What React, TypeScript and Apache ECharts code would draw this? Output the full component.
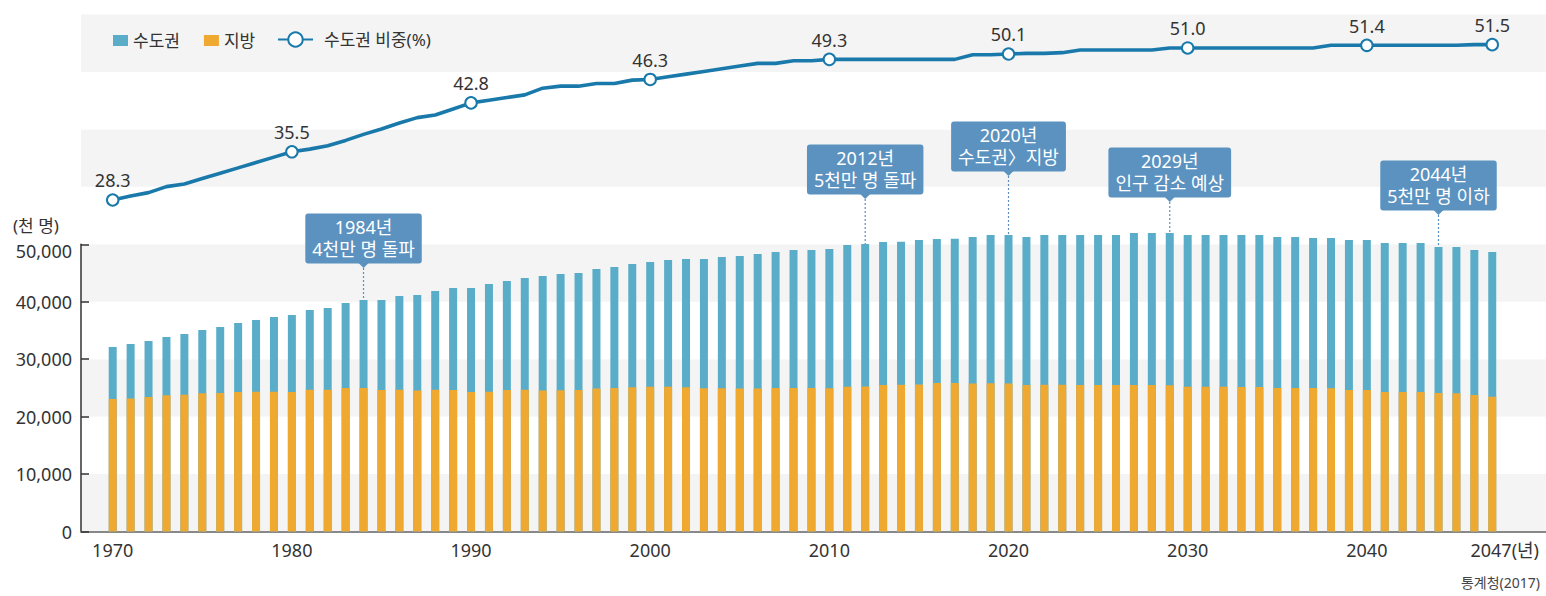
import { useEffect, useRef } from 'react';
import * as echarts from 'echarts';

const years = [
  1970, 1971, 1972, 1973, 1974, 1975, 1976, 1977, 1978, 1979,
  1980, 1981, 1982, 1983, 1984, 1985, 1986, 1987, 1988, 1989,
  1990, 1991, 1992, 1993, 1994, 1995, 1996, 1997, 1998, 1999,
  2000, 2001, 2002, 2003, 2004, 2005, 2006, 2007, 2008, 2009,
  2010, 2011, 2012, 2013, 2014, 2015, 2016, 2017, 2018, 2019,
  2020, 2021, 2022, 2023, 2024, 2025, 2026, 2027, 2028, 2029,
  2030, 2031, 2032, 2033, 2034, 2035, 2036, 2037, 2038, 2039,
  2040, 2041, 2042, 2043, 2044, 2045, 2046, 2047,
];

// 수도권 인구 (천 명)
const metroPop = [
  9070, 9490, 9750, 10160, 10580, 11000, 11490, 12010, 12510, 13010,
  13390, 13890, 14220, 14800, 15330, 15680, 16340, 16620, 17200, 17760,
  18120, 18760, 18970, 19450, 19920, 20250, 20370, 20800, 21060, 21470,
  21740, 22090, 22310, 22490, 22850, 23060, 23410, 23690, 24040, 24050,
  24230, 24680, 24800, 24880, 24890, 25150, 25090, 25110, 25490, 25800,
  25840, 25760, 26060, 26080, 26120, 26120, 26130, 26450, 26460, 26490,
  26420, 26430, 26440, 26450, 26460, 26270, 26280, 26120, 26150, 26110,
  26120, 25930, 25940, 25950, 25440, 25450, 25250, 25210,
];

// 지방 인구 (천 명)
const nonMetroPop = [
  23050, 23150, 23420, 23700, 23800, 24080, 24110, 24290, 24310, 24330,
  24300, 24670, 24690, 24980, 24970, 24620, 24660, 24550, 24670, 24630,
  24270, 24330, 24640, 24680, 24560, 24580, 24630, 24900, 24990, 25100,
  25180, 25180, 25130, 24950, 24940, 24900, 24900, 24970, 24970, 24960,
  24950, 25200, 25250, 25520, 25530, 25600, 25830, 25840, 25780, 25820,
  25780, 25510, 25560, 25540, 25500, 25500, 25490, 25520, 25510, 25480,
  25200, 25190, 25180, 25170, 25160, 25000, 24990, 24980, 24950, 24640,
  24630, 24300, 24290, 24280, 24090, 24080, 23760, 23450,
];

// 수도권 비중 (%)
const metroShare = [
  28.3, 28.9, 29.4, 30.3, 30.7, 31.5, 32.3, 33.1, 33.9, 34.7,
  35.5, 35.9, 36.4, 37.2, 38.1, 38.9, 39.8, 40.6, 41.0, 41.9,
  42.8, 43.2, 43.6, 44.0, 45.0, 45.3, 45.3, 45.7, 45.7, 46.2,
  46.3, 46.7, 47.1, 47.5, 47.9, 48.3, 48.7, 48.7, 49.1, 49.1,
  49.3, 49.3, 49.3, 49.3, 49.3, 49.3, 49.3, 49.3, 50.0, 50.0,
  50.1, 50.2, 50.2, 50.3, 50.7, 50.7, 50.7, 50.7, 50.7, 51.0,
  51.0, 51.0, 51.0, 51.0, 51.0, 51.0, 51.0, 51.0, 51.4, 51.4,
  51.4, 51.4, 51.4, 51.4, 51.4, 51.4, 51.5, 51.5,
];

const labelledYears = [1970, 1980, 1990, 2000, 2010, 2020, 2030, 2040, 2047];
const xTickYears = [1970, 1980, 1990, 2000, 2010, 2020, 2030, 2040, 2047];

const annotationYears = [1984, 2012, 2020, 2029, 2044];
const annotationTitles = ['1984년', '2012년', '2020년', '2029년', '2044년'];
const annotationNotes = ['4천만 명 돌파', '5천만 명 돌파', '수도권〉지방', '인구 감소 예상', '5천만 명 이하'];
// layout: distance (px) between bar top and callout pointer
const annotationLift = [32, 45, 59, 31, 32];

const FONT = "'Noto Sans', 'Noto Sans CJK KR', sans-serif";
const C_METRO = '#5aadc8';
const C_NON = '#efa930';
const C_LINE = '#1a79ab';
const C_BOX = '#5b92bf';
const C_TEXT = '#333333';

export default function App() {
  const ref = useRef<HTMLDivElement>(null);

  useEffect(() => {
    const el = ref.current;
    if (!el) return;
    const chart = echarts.init(el, null, { renderer: 'svg' });

    const W = 1546;
    const H = 596;
    const gridTop = 14.5;
    const gridBottom = 64.5;
    const gridLeft = 81;
    const yMax = 90000;
    const yLabelMax = 50000;
    const plotH = H - gridTop - gridBottom;
    const labelGridTop = gridTop + plotH * (1 - yLabelMax / yMax);
    const xMin = 1968.23;
    const xMax = 2050;

    // total bar height = 수도권 + 지방 (stacked look, drawn as overlapping bars)
    const totalPop = years.map((_, i) => metroPop[i] + nonMetroPop[i]);

    const option: any = {
      animation: false,
      backgroundColor: '#ffffff',
      textStyle: { fontFamily: FONT },
      legend: [
        {
          data: ['수도권', '지방'],
          left: 108,
          top: 27,
          icon: 'rect',
          itemWidth: 15,
          itemHeight: 11,
          itemGap: 24,
          textStyle: { fontSize: 17, color: C_TEXT, fontFamily: FONT },
        },
        {
          data: ['수도권 비중(%)'],
          left: 272,
          top: 26,
          itemWidth: 35,
          itemHeight: 18,
          textStyle: { fontSize: 17, color: C_TEXT, fontFamily: FONT, padding: [0, 0, 0, 6] },
        },
      ],
      grid: [
        { left: gridLeft, right: 0, top: gridTop, bottom: gridBottom },
        { left: gridLeft, right: 0, top: labelGridTop, bottom: gridBottom },
      ],
      xAxis: [
        {
          type: 'value',
          gridIndex: 0,
          min: xMin,
          max: xMax,
          splitLine: { show: false },
          axisLine: { show: true, lineStyle: { color: '#888888', width: 2 } },
          axisTick: {
            show: true,
            customValues: xTickYears,
            inside: true,
            length: 8,
            lineStyle: { color: C_TEXT, width: 1.5 },
          },
          axisLabel: {
            customValues: xTickYears,
            fontSize: 18,
            color: C_TEXT,
            fontFamily: FONT,
            margin: 9,
            formatter: (v: number) => (v === 2047 ? '{pad|}2047{u|(년)}' : String(v)),
            rich: {
              pad: { width: 25 },
              u: { fontSize: 18, color: C_TEXT, fontFamily: FONT },
            },
          },
        },
        { type: 'value', gridIndex: 1, min: xMin, max: xMax, show: false },
      ],
      yAxis: [
        {
          type: 'value',
          gridIndex: 0,
          min: 0,
          max: yMax,
          interval: 10000,
          axisLine: { show: false },
          axisTick: { show: false },
          axisLabel: { show: false },
          splitLine: { show: false },
          splitArea: { show: true, areaStyle: { color: ['#f4f4f4', '#ffffff'] } },
        },
        { type: 'value', gridIndex: 0, min: -21.2, max: 56.0, show: false },
        {
          type: 'value',
          gridIndex: 1,
          min: 0,
          max: yLabelMax,
          interval: 10000,
          axisLine: { show: true, lineStyle: { color: C_TEXT, width: 1.5 } },
          axisTick: { show: true, inside: true, length: 8, lineStyle: { color: C_TEXT, width: 1.5 } },
          splitLine: { show: false },
          axisLabel: {
            fontSize: 18,
            color: C_TEXT,
            fontFamily: FONT,
            margin: 9,
            formatter: (v: number) =>
              v === yLabelMax ? '{top|' + v.toLocaleString('en-US') + '}' : v.toLocaleString('en-US'),
            rich: {
              top: { fontSize: 18, color: C_TEXT, fontFamily: FONT, padding: [13, 0, 0, 0] },
            },
          },
        },
      ],
      series: [
        {
          name: '수도권',
          type: 'bar',
          xAxisIndex: 0,
          yAxisIndex: 0,
          barWidth: 8,
          barGap: '-100%',
          itemStyle: { color: C_METRO },
          data: years.map((y, i) => [y, totalPop[i]]),
        },
        {
          name: '지방',
          type: 'bar',
          xAxisIndex: 0,
          yAxisIndex: 0,
          barWidth: 8,
          barGap: '-100%',
          itemStyle: { color: C_NON },
          data: years.map((y, i) => [y, nonMetroPop[i]]),
        },
        {
          name: '수도권 비중(%)',
          type: 'line',
          xAxisIndex: 0,
          yAxisIndex: 1,
          z: 5,
          symbol: 'emptyCircle',
          symbolSize: 11.5,
          lineStyle: { color: C_LINE, width: 3.6 },
          itemStyle: { color: C_LINE, borderWidth: 3.5 },
          label: {
            show: false,
            position: 'top',
            distance: 4,
            fontSize: 18,
            color: C_TEXT,
            fontFamily: FONT,
            formatter: (p: any) => Number(p.value[1]).toFixed(1),
          },
          data: years.map((y, i) =>
            labelledYears.includes(y)
              ? { value: [y, metroShare[i]], label: { show: true } }
              : { value: [y, metroShare[i]], symbol: 'none' }
          ),
        },
      ],
    };

    chart.setOption(option);

    const graphics: any[] = [];
    annotationYears.forEach((yr, k) => {
      const i = years.indexOf(yr);
      const pt = chart.convertToPixel({ seriesIndex: 0 }, [yr, totalPop[i]]) as number[];
      const px = pt[0];
      const topY = pt[1];
      const tip = topY - annotationLift[k];
      graphics.push({
        type: 'line',
        z: 20,
        shape: { x1: px, y1: tip, x2: px, y2: topY },
        style: { stroke: '#5b8fc0', lineWidth: 1.2, lineDash: [2, 2] },
      });
      graphics.push({
        type: 'polygon',
        z: 21,
        shape: { points: [[px - 5, tip - 5], [px + 5, tip - 5], [px, tip]] },
        style: { fill: C_BOX },
      });
      graphics.push({
        type: 'text',
        z: 22,
        x: px,
        y: tip - 4.5,
        style: {
          text: annotationTitles[k] + '\n' + annotationNotes[k],
          fill: '#ffffff',
          fontSize: 18,
          fontFamily: FONT,
          align: 'center',
          verticalAlign: 'bottom',
          lineHeight: 22,
          backgroundColor: C_BOX,
          padding: [3, 7, 3, 7],
          borderRadius: 3,
        },
      });
    });
    graphics.push({
      type: 'text',
      z: 20,
      x: 13,
      y: 225,
      style: { text: '(천 명)', fill: C_TEXT, fontSize: 17, fontFamily: FONT, verticalAlign: 'middle' },
    });
    graphics.push({
      type: 'text',
      z: 20,
      x: W - 6,
      y: 582,
      style: {
        text: '통계청(2017)',
        fill: '#444444',
        fontSize: 14,
        fontFamily: FONT,
        align: 'right',
        verticalAlign: 'middle',
      },
    });
    chart.setOption({ graphic: graphics });

    return () => {
      chart.dispose();
    };
  }, []);

  return (
    <div
      ref={ref}
      style={{ position: 'absolute', left: 0, top: 0, width: 1546, height: 596, background: '#fff' }}
    />
  );
}
